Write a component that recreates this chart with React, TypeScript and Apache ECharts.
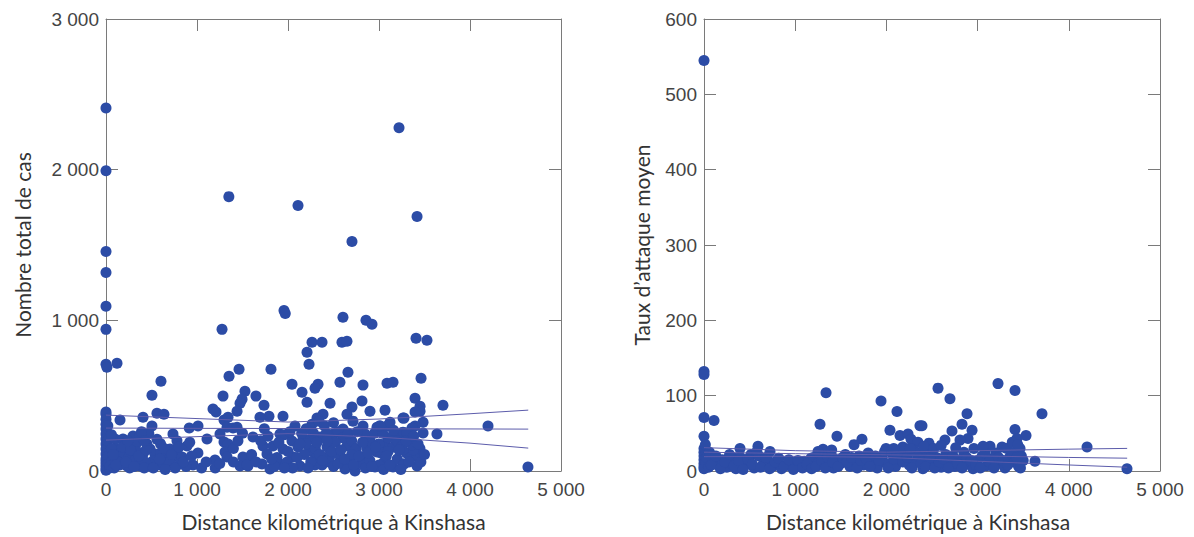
import React, { useEffect, useRef } from 'react';
import * as echarts from 'echarts';

// ---- Axis ticks ----
const distanceTicks = { min: 0, max: 5000, interval: 1000 };
const casesTicks = { min: 0, max: 3000, interval: 1000 };
const attackTicks = { min: 0, max: 600, interval: 100 };

// ---- Left panel: total number of cases vs distance (km) ----
const casesPoints: number[][] = [
  [0, 2410], [0, 1993], [0, 1457], [0, 1318], [0, 1093], [0, 940], [0, 709], [10, 689], [121, 715],
  [1350, 1821], [2110, 1762], [3220, 2278], [3418, 1689], [2703, 1523],
  [1275, 940], [1956, 1066], [1970, 1046], [2604, 1020], [2857, 1000], [2923, 974],
  [2264, 854], [2374, 854], [2593, 854], [2648, 861], [3407, 881], [3527, 868],
  [2209, 788], [2231, 709], [1813, 675], [1462, 675], [1352, 629], [2659, 656], [604, 596], [2044, 576],
  [2571, 589], [2330, 576], [2297, 550], [2824, 570], [3088, 583], [3154, 589], [3462, 616],
  [505, 503], [1286, 497], [1527, 530], [1648, 497], [1495, 477], [1473, 450], [1440, 397], [1736, 437],
  [2154, 523], [2209, 457], [2462, 450], [2813, 464], [2703, 424], [3396, 483], [3703, 437], [3451, 430],
  [3451, 397], [3396, 391], [1176, 411], [1209, 391], [1791, 364], [1945, 364], [1692, 357], [2901, 397],
  [3066, 404], [2648, 377], [2385, 377], [3264, 351], [3275, 351],
  [154, 338], [407, 357], [560, 384], [637, 377], [505, 298], [736, 245], [915, 285], [1011, 298], [1110, 212],
  [1297, 338], [1341, 357], [1330, 291], [1253, 245], [1297, 192], [1341, 179], [1308, 126], [1330, 93],
  [1198, 73], [1396, 285], [1440, 291], [1615, 225], [1505, 93], [1582, 93], [1473, 33], [1560, 33],
  [0, 391], [0, 377], [0, 344], [0, 311], [0, 278], [0, 245], [0, 212], [0, 179], [0, 146], [0, 113],
  [0, 80], [0, 60], [0, 40], [0, 20], [0, 5], [20, 300], [15, 200], [25, 100], [30, 50], [40, 20],
  [99, 212], [187, 212], [297, 232], [374, 232], [286, 179], [450, 179], [407, 113], [484, 146], [538, 113],
  [516, 66], [703, 146], [780, 132], [736, 93], [835, 93], [890, 166], [813, 46], [626, 33], [956, 40],
  [374, 33], [231, 33], [154, 99], [66, 66], [44, 33], [297, 60], [484, 46], [670, 93], [120, 150],
  [200, 120], [250, 90], [330, 80], [430, 60], [560, 40], [600, 180], [560, 210], [470, 250], [390, 260],
  [330, 180], [150, 40], [90, 20], [700, 60], [760, 20], [880, 30], [1050, 20], [1010, 120], [1100, 60],
  [920, 190], [780, 200], [60, 150], [130, 60], [260, 20], [340, 130], [420, 20], [600, 120], [650, 10],
  [80, 110], [110, 40], [180, 160], [220, 60], [270, 140], [310, 30], [360, 100], [440, 140], [520, 20],
  [590, 80], [640, 150], [720, 110], [800, 160], [850, 60], [940, 100], [60, 240], [240, 200], [420, 200],
  [2077, 298], [2714, 331], [2824, 298], [2978, 291], [3088, 298], [3121, 324], [2604, 278], [2495, 245],
  [1912, 245], [1960, 240], [2044, 199], [2165, 212], [2250, 212], [2352, 225], [2846, 245], [3198, 232],
  [3264, 258], [1725, 166], [1835, 166], [1945, 146], [2110, 159], [2242, 132], [2429, 159], [2410, 90],
  [2648, 166], [2868, 146], [2978, 126], [3066, 179], [3154, 159], [1769, 113], [2055, 93], [2297, 79],
  [2462, 99], [2571, 99], [2681, 66], [2846, 93], [3066, 66], [1714, 46], [1912, 46], [1990, 60], [2132, 33],
  [2297, 40], [2374, 40], [2626, 13], [2736, 0], [2956, 26], [3154, 26], [3264, 46], [1802, 13],
  [2264, 311], [2319, 351], [2340, 330], [2200, 280], [2150, 250], [2400, 300], [2500, 320], [2550, 260],
  [2600, 220], [2700, 200], [2750, 150], [2900, 200], [2950, 250], [3000, 180], [3020, 120], [3100, 220],
  [3200, 200], [3300, 120], [3350, 90], [3420, 100], [3450, 150], [3380, 140], [2200, 180], [2300, 150],
  [2350, 110], [2450, 60], [2500, 30], [2550, 50], [2800, 50], [2850, 20], [3000, 40], [3050, 10],
  [3200, 80], [3100, 130], [2900, 70], [2700, 110], [2250, 60], [2180, 110], [2000, 130], [1880, 90],
  [1850, 30], [2050, 20], [3484, 324], [3396, 298], [3363, 285], [4198, 298], [3637, 245], [3484, 252],
  [3308, 252], [3253, 166], [3363, 172], [3429, 179], [3275, 46], [3418, 33], [4637, 26],
  [1200, 20], [1250, 50], [1400, 150], [1450, 200], [1500, 250], [1550, 40], [1600, 110], [1650, 60],
  [1700, 200], [1400, 60],
  [1780, 230], [1820, 80], [1900, 190], [1960, 20], [2020, 260], [2100, 90], [2130, 180], [2220, 20],
  [2280, 250], [2320, 190], [2380, 70], [2420, 250], [2480, 130], [2520, 190], [2580, 140], [2620, 80],
  [2660, 250], [2720, 40], [2780, 100], [2820, 190], [2880, 120], [2920, 30], [2960, 160], [3040, 250],
  [3080, 100], [3120, 40], [3160, 270], [3220, 140], [3240, 10], [3300, 200], [3330, 60], [3380, 230],
  [3460, 60], [3500, 110], [1740, 280], [2430, 200], [2760, 260], [3010, 300]
];
const fitX = [0, 1000, 2000, 3000, 4000, 4640];
const casesUpper = [371, 348, 325, 345, 380, 404];
const casesFit = [285, 283, 282, 280, 279, 278];
const casesLower = [205, 228, 248, 225, 185, 152];

// ---- Right panel: mean attack rate vs distance (km) ----
const attackPoints: number[][] = [
  [0, 545], [0, 132], [0, 128], [0, 71], [110, 67], [0, 46], [0, 30], [0, 25], [0, 20], [0, 15], [0, 10],
  [0, 6], [0, 3], [15, 35], [20, 12],
  [1338, 104], [1272, 62], [1458, 46], [1732, 42], [1645, 35], [1941, 93], [2116, 79], [2039, 54], [2368, 60],
  [2149, 47], [2237, 49], [2270, 42], [2346, 38], [395, 30], [592, 33], [724, 26], [515, 22], [340, 17],
  [1305, 29], [1173, 17], [1996, 30],
  [2566, 110], [2697, 96], [3224, 116], [3410, 107], [3706, 76], [2884, 76], [2390, 60], [2829, 62],
  [2939, 54], [2719, 53], [3410, 55], [3531, 47], [3432, 43], [2895, 43], [2642, 41], [2467, 37], [2807, 41],
  [4200, 32], [3629, 13], [4638, 3], [3136, 33], [3268, 32], [3465, 30],
  [50, 5], [100, 12], [150, 8], [200, 15], [250, 5], [300, 10], [350, 3], [400, 18], [450, 8], [500, 12],
  [550, 4], [600, 20], [650, 9], [700, 14], [750, 6], [800, 10], [850, 3], [900, 8], [950, 12], [1000, 5],
  [1050, 9], [1100, 13], [1150, 6], [1200, 18], [1250, 10], [1280, 22], [1320, 14], [1350, 25], [1380, 8],
  [1400, 20], [1420, 4], [1450, 15], [1500, 10], [1550, 22], [1600, 6], [1650, 14], [1700, 20], [1750, 8],
  [1800, 24], [1850, 12], [1900, 4], [1950, 18], [2000, 10], [2050, 25], [2100, 6], [2150, 15], [2200, 22],
  [2250, 8], [2300, 28], [2320, 12], [2350, 20], [2400, 3], [2420, 15], [2450, 25], [2500, 10], [2550, 18],
  [2600, 5], [2650, 22], [2700, 12], [2750, 6], [2800, 15], [2850, 25], [2900, 9], [2950, 3], [3000, 14],
  [3050, 20], [3100, 7], [3150, 16], [3200, 24], [3250, 10], [3300, 4], [3350, 18], [3400, 12], [3420, 26],
  [3450, 6], [3480, 20], [3500, 14],
  [30, 18], [60, 25], [80, 8], [130, 20], [180, 3], [230, 12], [280, 22], [330, 7], [380, 14], [430, 2],
  [480, 16], [530, 9], [580, 26], [620, 5], [680, 18], [720, 3], [780, 12], [820, 17], [880, 6], [930, 15],
  [980, 2], [1030, 14], [1080, 4], [1130, 9], [1180, 3], [1230, 6], [1290, 14], [1330, 4], [1360, 18],
  [1410, 12], [1470, 6], [1520, 18], [1570, 12], [1620, 18], [1680, 4], [1720, 14], [1780, 16], [1820, 6],
  [1880, 20], [1920, 14], [1980, 26], [2020, 4], [2080, 16], [2120, 22], [2180, 12], [2230, 18], [2280, 4],
  [2330, 24], [2380, 10], [2430, 6], [2480, 18], [2530, 4], [2580, 12], [2630, 16], [2680, 4], [2730, 20],
  [2780, 10], [2830, 4], [2880, 18], [2930, 14], [2980, 8], [3030, 4], [3080, 24], [3130, 12], [3180, 4],
  [3230, 18], [3280, 14], [3330, 8], [3380, 24], [3430, 18], [3470, 4],
  [2180, 32], [2260, 30], [2410, 33], [2520, 30], [2600, 34], [2760, 31], [2960, 30], [3060, 33],
  [3320, 30], [3380, 38], [3440, 35], [1250, 26], [1400, 28], [2080, 30]
];
const attackUpper = [31, 27, 25, 27, 29, 30];
const attackFit = [25, 23, 21.5, 20, 18, 17];
const attackLower = [19, 19.5, 18, 13, 8, 5];

const axisColor = '#7a7a7a';
const labelColor = '#444444';
const dotColor = '#2c4ca6';
const fitColor = '#5c5cab';
const tickFont = '"Liberation Sans", Arial, sans-serif';
const titleFont = 'Lato, "Open Sans", sans-serif';

const fmt = (v: number) =>
  v >= 1000 ? `${Math.floor(v / 1000)} ${String(v % 1000).padStart(3, '0')}` : String(v);

const frameLine = { show: true, onZero: false, lineStyle: { color: axisColor, width: 1 } };
const innerTick = { show: true, inside: true, length: 12, lineStyle: { color: axisColor, width: 1 } };

function xAxesFor(gridIndex: number, namePad: number[]) {
  return [
    {
      type: 'value', gridIndex, position: 'bottom', ...distanceTicks,
      axisLine: frameLine, axisTick: innerTick, splitLine: { show: false },
      axisLabel: { formatter: fmt, color: labelColor, fontSize: 19, fontFamily: tickFont, margin: 9 },
      name: 'Distance kilométrique à Kinshasa', nameLocation: 'middle', nameGap: 40,
      nameTextStyle: { fontFamily: titleFont, fontSize: 21, color: '#333333', padding: namePad }
    },
    {
      type: 'value', gridIndex, position: 'top', ...distanceTicks,
      axisLine: frameLine, axisTick: innerTick, splitLine: { show: false }, axisLabel: { show: false }
    }
  ];
}

function yAxesFor(gridIndex: number, ticks: any, name: string, gap: number) {
  return [
    {
      type: 'value', gridIndex, position: 'left', ...ticks,
      axisLine: frameLine, axisTick: innerTick, splitLine: { show: false },
      axisLabel: { formatter: fmt, color: labelColor, fontSize: 19, fontFamily: tickFont, margin: 7 },
      name, nameLocation: 'middle', nameGap: gap,
      nameTextStyle: { fontFamily: titleFont, fontSize: 21, color: '#333333' }
    },
    {
      type: 'value', gridIndex, position: 'right', ...ticks,
      axisLine: frameLine, axisTick: innerTick, splitLine: { show: false }, axisLabel: { show: false }
    }
  ];
}

function fitSeries(xi: number, yi: number, values: number[], name: string) {
  return {
    type: 'line', name, xAxisIndex: xi, yAxisIndex: yi, symbol: 'none', z: 5,
    lineStyle: { color: fitColor, width: 1 },
    data: fitX.map((x, i) => [x, values[i]])
  };
}

export default function App() {
  const ref = useRef<HTMLDivElement>(null);
  useEffect(() => {
    if (!ref.current) return;
    const chart = echarts.init(ref.current, undefined, { renderer: 'svg' });
    chart.setOption({
      animation: false,
      backgroundColor: '#ffffff',
      grid: [
        { left: 106, top: 19, width: 455, height: 453 },
        { left: 704, top: 19, width: 456, height: 456 }
      ],
      xAxis: [...xAxesFor(0, [0, 0, 0, 0]), ...xAxesFor(1, [0, 28, 0, 0])],
      yAxis: [
        ...yAxesFor(0, casesTicks, 'Nombre total de cas', 73),
        ...yAxesFor(1, attackTicks, 'Taux d\u2019attaque moyen', 52)
      ],
      series: [
        {
          type: 'scatter', name: 'cases', xAxisIndex: 0, yAxisIndex: 0, symbolSize: 11,
          itemStyle: { color: dotColor, opacity: 1 }, data: casesPoints
        },
        fitSeries(0, 0, casesUpper, 'cases-upper'),
        fitSeries(0, 0, casesFit, 'cases-fit'),
        fitSeries(0, 0, casesLower, 'cases-lower'),
        {
          type: 'scatter', name: 'attack', xAxisIndex: 2, yAxisIndex: 2, symbolSize: 11,
          itemStyle: { color: dotColor, opacity: 1 }, data: attackPoints
        },
        fitSeries(2, 2, attackUpper, 'attack-upper'),
        fitSeries(2, 2, attackFit, 'attack-fit'),
        fitSeries(2, 2, attackLower, 'attack-lower')
      ]
    });
    return () => chart.dispose();
  }, []);
  return (
    <div
      ref={ref}
      style={{ position: 'absolute', left: 0, top: 0, width: 1194, height: 537, background: '#fff' }}
    />
  );
}
